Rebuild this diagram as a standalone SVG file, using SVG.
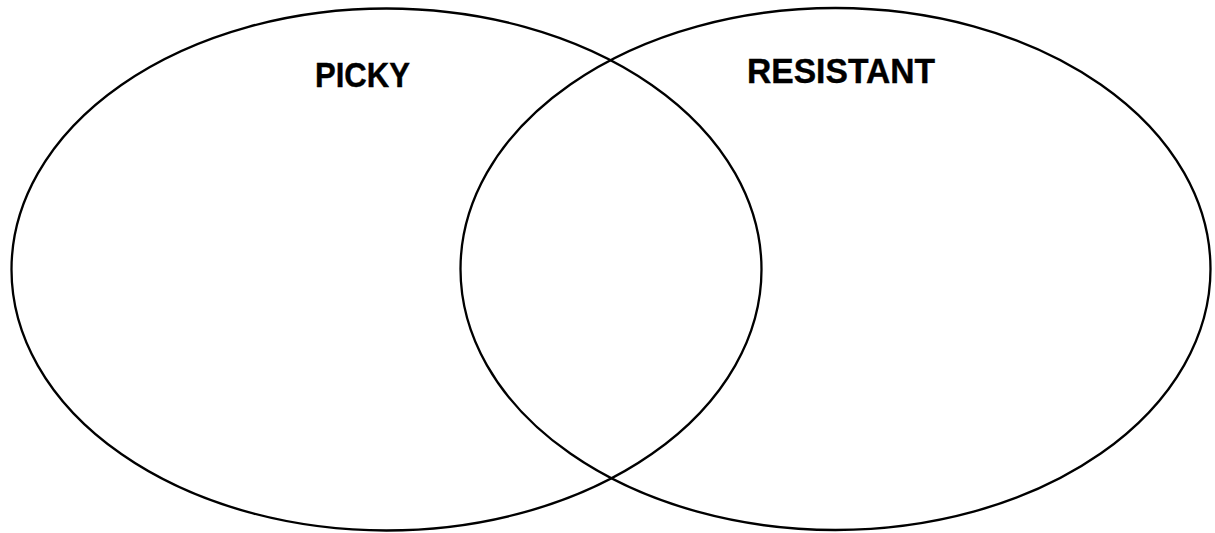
<svg xmlns="http://www.w3.org/2000/svg" width="1215" height="533" viewBox="0 0 1215 533">
<style>
.set{fill:none;stroke:#000;stroke-width:2.3}
.lbl{font-family:"Liberation Sans",Arial,sans-serif;font-weight:bold;font-size:35px;fill:#000;stroke:#000;stroke-width:0.4}
</style>
<rect width="1215" height="533" fill="#fff"/>
<g id="picky">
<ellipse class="set" cx="386.5" cy="269.5" rx="375" ry="261"/>
<text class="lbl" x="315" y="87" textLength="95" lengthAdjust="spacingAndGlyphs">PICKY</text>
</g>
<g id="resistant">
<ellipse class="set" cx="835.5" cy="269" rx="375" ry="261"/>
<text class="lbl" x="747" y="82.5" textLength="188" lengthAdjust="spacingAndGlyphs">RESISTANT</text>
</g>
<g id="connectors"/>
</svg>
